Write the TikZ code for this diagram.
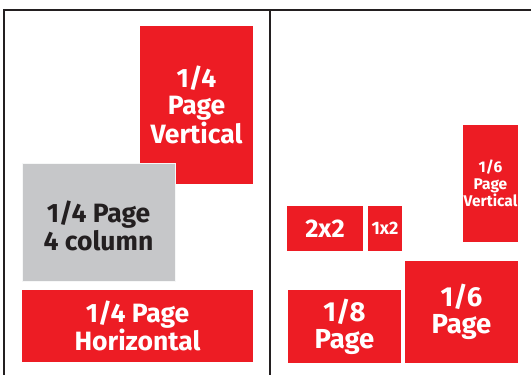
\documentclass[tikz,border=0pt]{standalone}
\usepackage{fontspec}
\setmainfont{Fira Sans}[BoldFont={Fira Sans Bold}]
\definecolor{adred}{HTML}{ED1C24}
\definecolor{adgray}{HTML}{C6C7C9}
\definecolor{ink}{HTML}{231F20}
\begin{document}
\begin{tikzpicture}[x=1pt,y=-1pt,
  adbox/.style={rectangle, fill=adred, text=white, inner sep=0pt, align=center,
     font=\bfseries\fontsize{26.5}{27}\selectfont},
  frameline/.style={draw=ink, line width=1.6pt}]
\useasboundingbox (0,0) rectangle (531,375);
% frame
\coordinate (tl) at (4,10);
\coordinate (tr) at (531,10);
\coordinate (bl) at (4,375);
\coordinate (mt) at (270,10);
\coordinate (mb) at (270,375);
\draw[frameline] (bl) -- (tl) -- (tr);
\draw[draw=ink, line width=2.6pt] (mt) -- (mb);
% left page
\node[adbox, minimum width=113pt, minimum height=158pt] (qv) at (196.5,105) {1/4\\Page\\Vertical};
\node[adbox, fill=adgray, text=ink, draw=white!85!adgray, line width=1pt,
      minimum width=153pt, minimum height=118pt] (qc) at (98.5,222) {\raisebox{-8pt}[\height][\depth]{\begin{tabular}{@{}c@{}}1/4 Page\\4 column\end{tabular}}};
\node[adbox, minimum width=231pt, minimum height=72pt] (qh) at (137.5,326) {1/4 Page\\Horizontal};
% right page
\node[adbox, minimum width=55pt, minimum height=117pt, font=\bfseries\fontsize{15.5}{17}\selectfont] (sv) at (490.5,183.5) {1/6\\Page\\Vertical};
\node[adbox, minimum width=76pt, minimum height=45pt, font=\bfseries\fontsize{25.5}{27}\selectfont] (tt) at (325,228.5) {2x2};
\node[adbox, minimum width=34pt, minimum height=45pt, font=\bfseries\fontsize{18}{17}\selectfont] (ot) at (385,228.5) {1x2};
\node[adbox, minimum width=113pt, minimum height=73pt, font=\bfseries\fontsize{27.5}{27}\selectfont] (ep) at (344.5,326.5) {1/8\\Page};
\node[adbox, minimum width=113pt, minimum height=102pt, font=\bfseries\fontsize{27.5}{27}\selectfont] (sp) at (461.5,312) {1/6\\Page};
\end{tikzpicture}
\end{document}
